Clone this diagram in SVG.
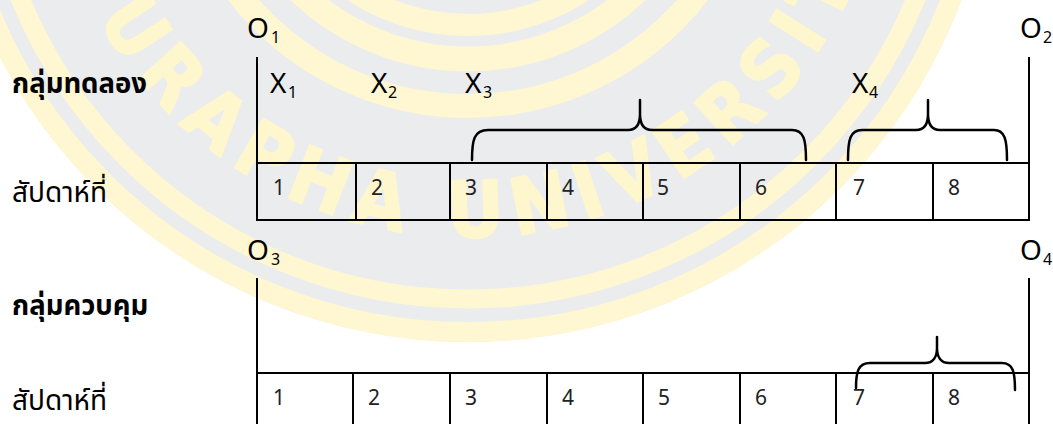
<svg xmlns="http://www.w3.org/2000/svg" width="1053" height="424" viewBox="0 0 1053 424">
<defs>
<style>
.wm-ring{fill:none;stroke:#fef7d2}
.ln{stroke:#000;stroke-width:2;fill:none}
.br{stroke:#000;stroke-width:2.5;fill:none;stroke-linecap:round;stroke-linejoin:round}
.lbl{font-family:"Noto Sans","Open Sans",sans-serif;font-size:28px;fill:#000}
.sub{font-family:"Noto Sans","Open Sans",sans-serif;font-size:16px;fill:#000}
.num{font-family:"Noto Sans","Open Sans",sans-serif;font-size:21px;fill:#222}
.th{font-family:"Noto Sans Thai","Leelawadee UI",Tahoma,"DejaVu Sans",sans-serif;font-size:28px;fill:#000}
.thb{font-weight:bold;font-size:27.5px}
.wm-text{font-family:"DejaVu Sans Condensed","Liberation Sans Narrow","Liberation Sans",sans-serif;font-weight:bold;font-size:78px;letter-spacing:11px;fill:#fef6cd;stroke:#fef6cd;stroke-width:2;stroke-linejoin:round}
</style>
<path id="wmArc" d="M 46 -185 A 422 422 0 0 0 890 -185"/>
</defs>
<rect x="0" y="0" width="1053" height="424" fill="#fff"/>
<g id="watermark">
<circle cx="468" cy="-185" r="527" fill="#ebeced"/>
<circle class="wm-ring" cx="468" cy="-185" r="517" stroke-width="20"/>
<circle class="wm-ring" cx="468" cy="-185" r="484" stroke-width="19"/>
<circle class="wm-ring" cx="468" cy="-185" r="291" stroke-width="24"/>
<circle class="wm-ring" cx="468" cy="-185" r="244" stroke-width="25"/>
<circle class="wm-ring" cx="468" cy="-185" r="210" stroke-width="22"/>
<text class="wm-text"><textPath href="#wmArc" startOffset="147">BURAPHA UNIVERSITY</textPath></text>
</g>
<g id="experimental-group">
<text class="th thb" x="12" y="93">กลุ่มทดลอง</text>
<text class="th" x="12" y="202">สัปดาห์ที่</text>
<text class="lbl" x="247" y="38">O</text><text class="sub" x="271" y="43">1</text>
<text class="lbl" x="1020" y="38">O</text><text class="sub" x="1043" y="43">2</text>
<text class="lbl" x="270" y="93">X</text><text class="sub" x="288" y="98">1</text>
<text class="lbl" x="371" y="93">X</text><text class="sub" x="388" y="98">2</text>
<text class="lbl" x="465" y="93">X</text><text class="sub" x="483" y="98">3</text>
<text class="lbl" x="852" y="93">X</text><text class="sub" x="869" y="98">4</text>
<path class="ln" d="M257 57 V220 H1029 V57 M257 163 H1029 M356 163 V220 M450 163 V220 M547 163 V220 M643 163 V220 M740 163 V220 M836 163 V220 M933 163 V220"/>
<text class="num" x="273" y="195">1</text>
<text class="num" x="371" y="195">2</text>
<text class="num" x="465" y="195">3</text>
<text class="num" x="562" y="195">4</text>
<text class="num" x="657" y="195">5</text>
<text class="num" x="755" y="195">6</text>
<text class="num" x="853" y="195">7</text>
<text class="num" x="948" y="195">8</text>
</g>
<g id="control-group">
<text class="th thb" x="12" y="315">กลุ่มควบคุม</text>
<text class="th" x="12" y="410">สัปดาห์ที่</text>
<text class="lbl" x="247" y="260">O</text><text class="sub" x="271" y="265">3</text>
<text class="lbl" x="1020" y="260">O</text><text class="sub" x="1043" y="265">4</text>
<path class="ln" d="M257 278 V424 M1029 278 V424 M257 373 H1029 M353 373 V424 M450 373 V424 M547 373 V424 M643 373 V424 M740 373 V424 M836 373 V424 M933 373 V424"/>
<text class="num" x="273" y="405">1</text>
<text class="num" x="368" y="405">2</text>
<text class="num" x="465" y="405">3</text>
<text class="num" x="562" y="405">4</text>
<text class="num" x="658" y="405">5</text>
<text class="num" x="755" y="405">6</text>
<text class="num" x="853" y="405">7</text>
<text class="num" x="948" y="405">8</text>
</g>
<g id="connectors">
<path class="br" d="M472 160 C472 140 474 130 488 130 L628 130 C636 130 640 124 640 114 L640 100 M640 114 C640 124 644 130 652 130 L792 130 C804 130 806 140 806 160"/>
<path class="br" d="M848 160 C848 140 850 130 862 130 L916 130 C924 130 928 124 928 114 L928 100 M928 114 C928 124 932 130 940 130 L994 130 C1005 130 1007 140 1007 160"/>
<path class="br" d="M856 388 C856 372 858 363 870 363 L925 363 C933 363 937 357 937 348 L937 337 M937 348 C937 357 941 363 949 363 L1002 363 C1013 363 1015 372 1015 390"/>
</g>
</svg>
